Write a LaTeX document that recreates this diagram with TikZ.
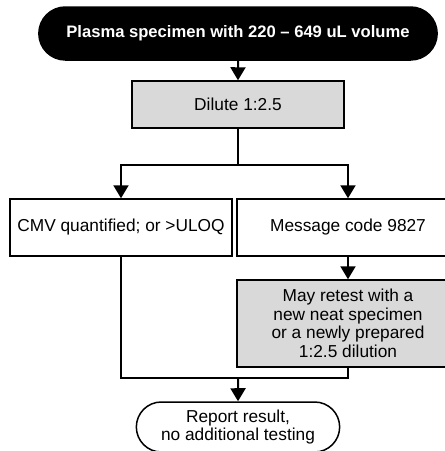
\documentclass[tikz,border=0pt]{standalone}
\usepackage{fontspec}
\setmainfont{Liberation Sans}
\usetikzlibrary{arrows.meta,shapes.misc}

\begin{document}
\begin{tikzpicture}[x=1pt, y=-1pt, >={Triangle[length=13pt, width=15pt]},
    line width=2pt,
    box/.style={draw, line width=1.5pt, minimum width=222pt, minimum height=57pt,
      align=center, font=\fontsize{17.3}{18.5}\selectfont},
    greybox/.style={box, fill=gray!30},
    pill/.style={rounded rectangle, draw, line width=1.5pt, align=center,
      font=\fontsize{17.3}{18.5}\selectfont}]
  \useasboundingbox (0,0) rectangle (445,451);

  % start and dilution
  \node[pill, fill=black, text=white, minimum width=405pt, minimum height=53pt,
    font=\fontsize{16.6}{18}\selectfont\bfseries] (spec) at (238,33.5)
    {Plasma specimen with 220 -- 649 uL volume};
  \node[greybox, minimum width=212pt, minimum height=47pt] (dil) at (238,104.5) {Dilute 1:2.5};

  % results
  \node[box] (cmv) at (121,227.5) {CMV quantified; or >ULOQ};
  \node[box] (msg) at (348,227.5) {Message code 9827};
  \node[greybox, minimum height=87pt] (retest) at (348,323.5)
    {May retest with a\\new neat specimen\\or a newly prepared\\1:2.5 dilution};

  % end
  \node[pill, fill=white, minimum width=210pt, minimum height=50pt] (report) at (238,427)
    {Report result,\\no additional testing};

  \coordinate (fork) at (238,165);
  \coordinate (join) at (238,378);

  \draw[->] (spec) -- (dil);
  \draw (dil) -- (fork);
  \draw[->] (fork) -| (cmv);
  \draw[->] (fork) -| (msg);
  \draw[->] (msg) -- (retest);
  \draw (cmv) |- (join);
  \draw (retest) |- (join);
  \draw[->] (join) -- (report);
\end{tikzpicture}
\end{document}
